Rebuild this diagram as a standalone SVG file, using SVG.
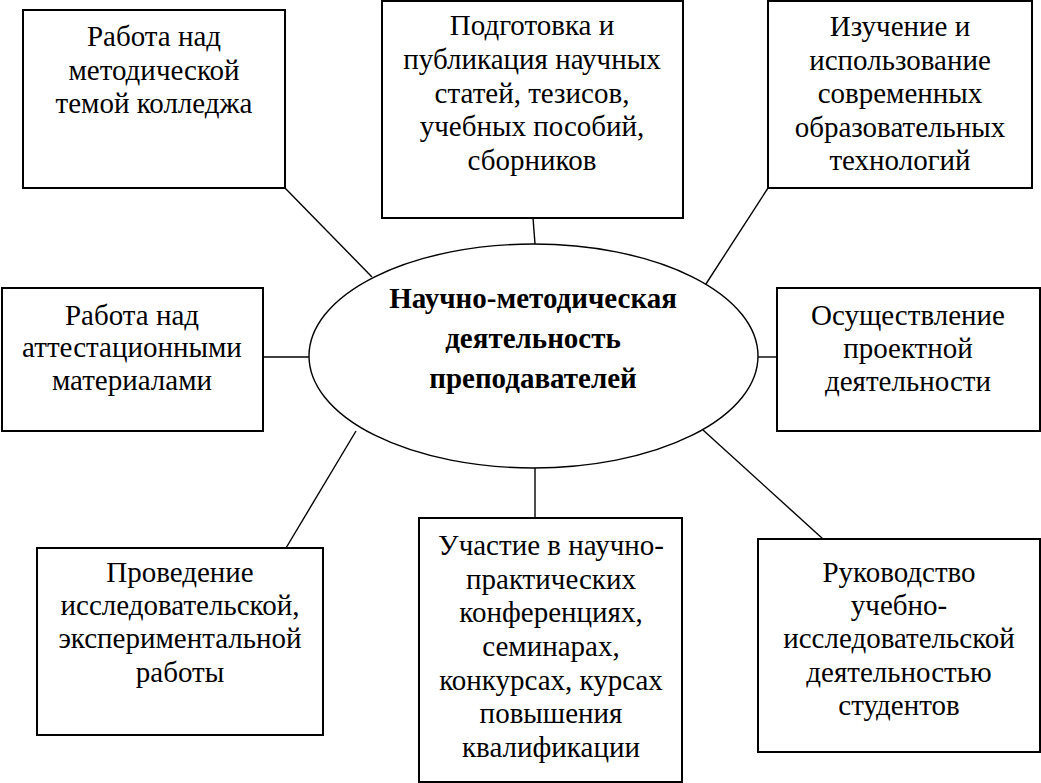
<svg xmlns="http://www.w3.org/2000/svg" width="1041" height="783" viewBox="0 0 1041 783">
<style>
.box{fill:#fff;stroke:#000;stroke-width:2}
.t{font-family:"Liberation Serif","Times New Roman",serif;font-size:29px;text-anchor:middle;fill:#000}
.c{font-family:"Liberation Serif","Times New Roman",serif;font-size:29px;font-weight:bold;text-anchor:middle;fill:#000}
.ln{stroke:#000;stroke-width:1.4;fill:none}
</style>
<rect width="1041" height="783" fill="#fff"/>
<g id="connectors">
<line class="ln" x1="285" y1="188" x2="372" y2="277"/>
<line class="ln" x1="533" y1="218" x2="535" y2="244"/>
<line class="ln" x1="768" y1="188" x2="704" y2="287"/>
<line class="ln" x1="263" y1="357" x2="309" y2="357"/>
<line class="ln" x1="758" y1="357" x2="777" y2="357"/>
<line class="ln" x1="356" y1="431" x2="286" y2="548"/>
<line class="ln" x1="535" y1="468" x2="535" y2="518"/>
<line class="ln" x1="703" y1="430" x2="823" y2="539"/>
</g>
<g id="center">
<ellipse cx="533.5" cy="356" rx="224.5" ry="112" fill="#fff" stroke="#000" stroke-width="1.4"/>
<text class="c" x="533" y="308">Научно-методическая</text>
<text class="c" x="533" y="348">деятельность</text>
<text class="c" x="533" y="388">преподавателей</text>
</g>
<g id="n1">
<rect class="box" x="23" y="10" width="262" height="178"/>
<text class="t" x="154" y="46">Работа над</text>
<text class="t" x="154" y="80">методической</text>
<text class="t" x="154" y="113">темой колледжа</text>
</g>
<g id="n2">
<rect class="box" x="382" y="1" width="301" height="217"/>
<text class="t" x="532" y="35">Подготовка и</text>
<text class="t" x="532" y="69">публикация научных</text>
<text class="t" x="532" y="103">статей, тезисов,</text>
<text class="t" x="532" y="136">учебных пособий,</text>
<text class="t" x="532" y="170">сборников</text>
</g>
<g id="n3">
<rect class="box" x="768" y="1" width="264" height="187"/>
<text class="t" x="900" y="36">Изучение и</text>
<text class="t" x="900" y="70">использование</text>
<text class="t" x="900" y="103">современных</text>
<text class="t" x="900" y="137">образовательных</text>
<text class="t" x="900" y="170">технологий</text>
</g>
<g id="n4">
<rect class="box" x="2" y="288" width="261" height="143"/>
<text class="t" x="132" y="325">Работа над</text>
<text class="t" x="132" y="357">аттестационными</text>
<text class="t" x="132" y="390">материалами</text>
</g>
<g id="n5">
<rect class="box" x="777" y="288" width="263" height="143"/>
<text class="t" x="908" y="325">Осуществление</text>
<text class="t" x="908" y="358">проектной</text>
<text class="t" x="908" y="391">деятельности</text>
</g>
<g id="n6">
<rect class="box" x="37" y="548" width="286" height="187"/>
<text class="t" x="180" y="582">Проведение</text>
<text class="t" x="180" y="615">исследовательской,</text>
<text class="t" x="180" y="648">экспериментальной</text>
<text class="t" x="180" y="682">работы</text>
</g>
<g id="n7">
<rect class="box" x="419" y="518" width="263" height="264"/>
<text class="t" x="551" y="555">Участие в научно-</text>
<text class="t" x="551" y="589">практических</text>
<text class="t" x="551" y="622">конференциях,</text>
<text class="t" x="551" y="656">семинарах,</text>
<text class="t" x="551" y="690">конкурсах, курсах</text>
<text class="t" x="551" y="723">повышения</text>
<text class="t" x="551" y="757">квалификации</text>
</g>
<g id="n8">
<rect class="box" x="758" y="539" width="282" height="213"/>
<text class="t" x="899" y="582">Руководство</text>
<text class="t" x="899" y="615">учебно-</text>
<text class="t" x="899" y="648">исследовательской</text>
<text class="t" x="899" y="682">деятельностью</text>
<text class="t" x="899" y="715">студентов</text>
</g>
</svg>
